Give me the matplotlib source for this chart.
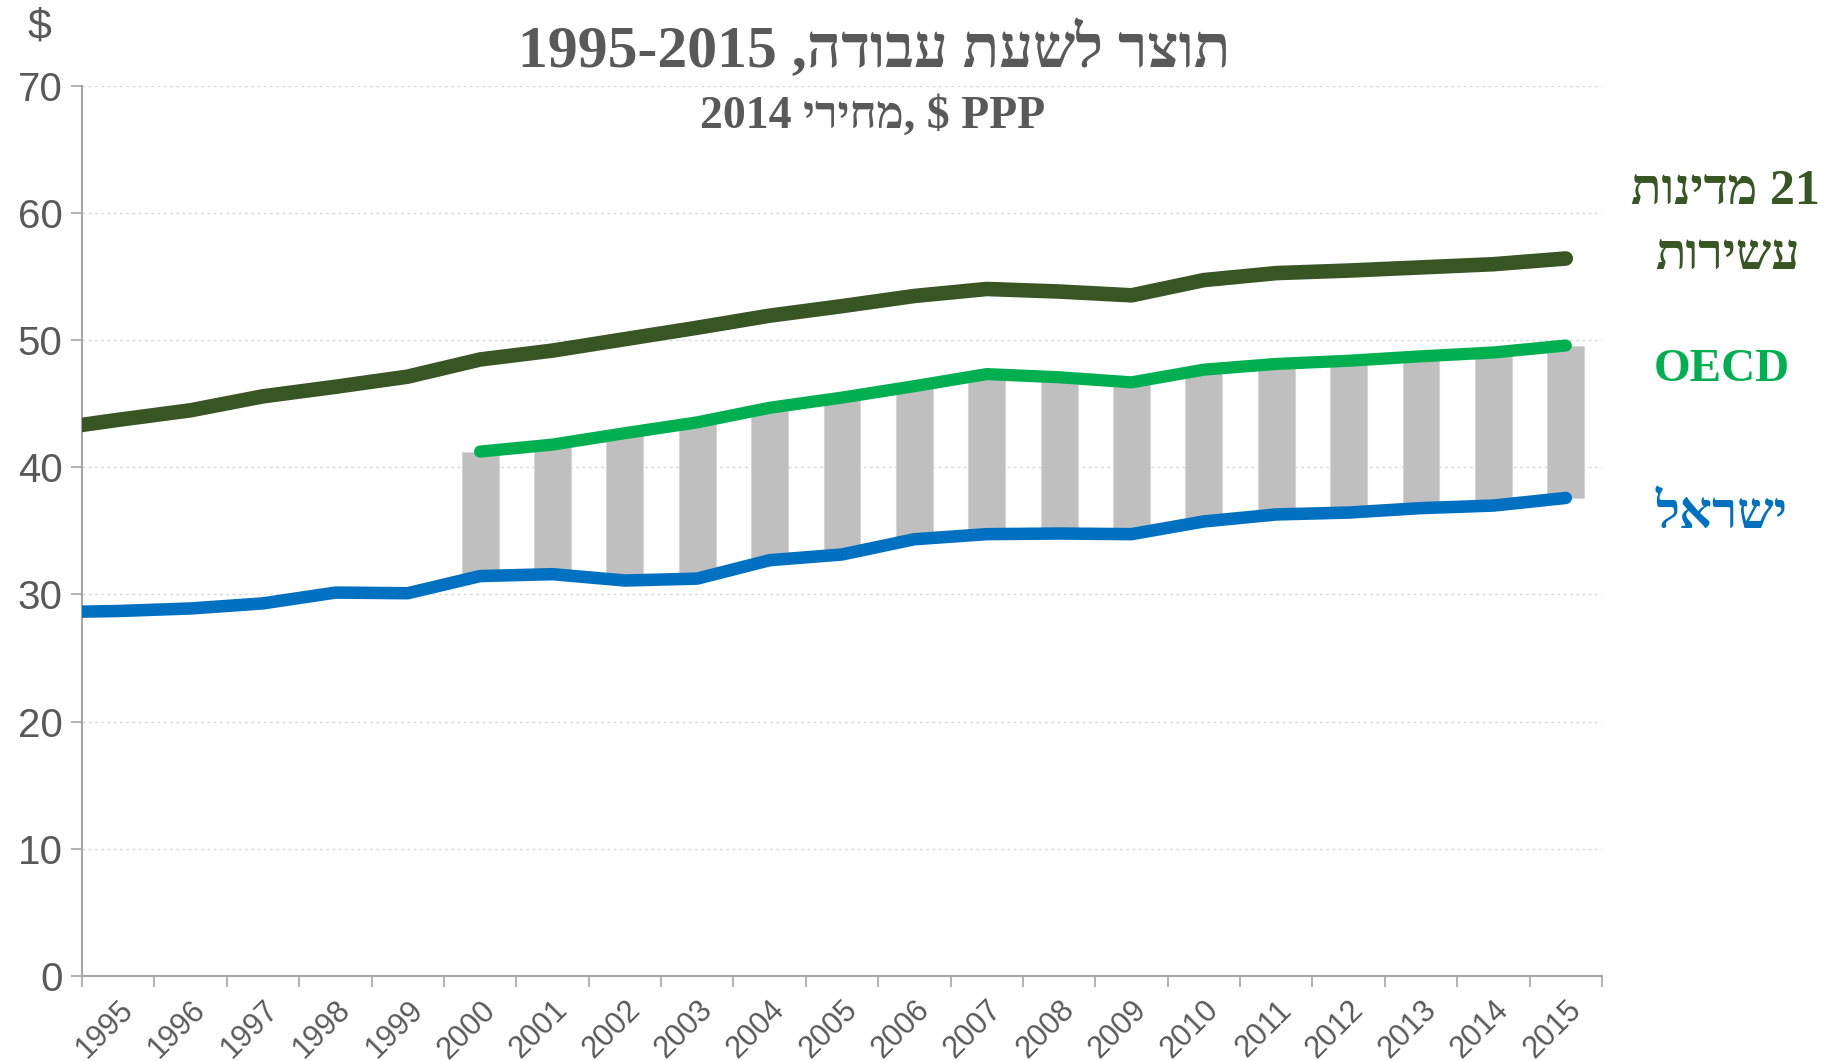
import re

import numpy as np
import matplotlib
matplotlib.use('Agg')
import matplotlib.pyplot as plt


def rtl(s):
    # matplotlib has no bidi: flip the string, then flip back the digit/latin runs
    r = s[::-1]
    return re.sub(r'[0-9A-Za-z\-\.]+', lambda m: m.group(0)[::-1], r)


# data
years = list(range(1995, 2016))
# line series carry one extra point on the left (1994) that the axis clips
line_years = [1994] + years
rich21 = [42.95, 43.75, 44.5, 45.6, 46.35, 47.15, 48.5, 49.2, 50.1, 51.0, 51.95,
          52.7, 53.5, 54.05, 53.85, 53.55, 54.75, 55.3, 55.5, 55.75, 56.0, 56.45]
israel = [28.6, 28.7, 28.9, 29.3, 30.15, 30.1, 31.45, 31.6, 31.1, 31.25, 32.7,
          33.15, 34.35, 34.75, 34.8, 34.75, 35.75, 36.3, 36.45, 36.8, 37.0, 37.6]
oecd_years = list(range(2000, 2016))
oecd = [41.25, 41.8, 42.7, 43.55, 44.7, 45.5, 46.4, 47.35, 47.1, 46.7, 47.7,
        48.15, 48.4, 48.75, 49.05, 49.6]

c_dark = '#375623'
c_green = '#00B050'
c_blue = '#0070C0'
c_text = '#595959'
c_axis = '#A6A6A6'

plt.rcParams['font.family'] = ['Liberation Sans', 'DejaVu Sans']

fig = plt.figure(figsize=(18.3, 10.61), dpi=100)
ax = fig.add_axes([0.0448, 0.0805, 0.8306, 0.8381])

x0 = years[0]
# gap bars between Israel and OECD
isr_map = dict(zip(line_years, israel))
bar_x = [y - x0 for y in oecd_years]
bar_bottom = [isr_map[y] for y in oecd_years]
bar_h = [o - b for o, b in zip(oecd, bar_bottom)]
ax.bar(bar_x, bar_h, bottom=bar_bottom, width=0.51, color='#BFBFBF',
       edgecolor='#D6D6D6', linewidth=0.8, zorder=2)

lx = [y - x0 for y in line_years]
ax.plot(lx, rich21, color=c_dark, lw=10.5, solid_capstyle='round',
        solid_joinstyle='round', zorder=4)
ax.plot([y - x0 for y in oecd_years], oecd, color=c_green, lw=8.8,
        solid_capstyle='round', solid_joinstyle='round', zorder=4)
ax.plot(lx, israel, color=c_blue, lw=9.0, solid_capstyle='round',
        solid_joinstyle='round', zorder=5)

ax.set_xlim(-0.5, len(years) - 0.5)
ax.set_ylim(0, 70)

ax.set_yticks(np.arange(0, 71, 10))
ax.tick_params(axis='y', colors=c_axis, labelcolor=c_text, labelsize=29,
               length=8, width=1.2, pad=6)
for yv in range(10, 71, 10):
    ax.axhline(yv, color='#D9D9D9', lw=1.0, ls=(0, (2, 2.5)), zorder=1)

# category boundaries carry the tick marks, labels sit at the centres
ax.set_xticks(np.arange(-0.5, len(years), 1.0))
ax.set_xticks(np.arange(len(years)), minor=True)
ax.set_xticklabels([])
ax.set_xticklabels([str(y) for y in years], minor=True, rotation=45,
                   ha='right', va='top', rotation_mode='anchor')
ax.tick_params(axis='x', which='major', colors=c_axis, length=8, width=1.2)
ax.tick_params(axis='x', which='minor', length=0, labelsize=22,
               labelcolor=c_text, pad=14)

for s in ['top', 'right']:
    ax.spines[s].set_visible(False)
for s in ['left', 'bottom']:
    ax.spines[s].set_color(c_axis)
    ax.spines[s].set_linewidth(1.5)

fig.text(0.0215, 0.993, '$', fontsize=31, color=c_text, ha='center', va='top')

serif = ['Liberation Serif', 'DejaVu Serif']
fig.text(0.4776, 0.952, rtl('תוצר לשעת עבודה, 1995-2015'), fontsize=43,
         fontweight='bold', color=c_text, ha='center', va='center', family=serif)
fig.text(0.477, 0.890, rtl('PPP $ ,מחירי 2014'), fontsize=33,
         fontweight='bold', color=c_text, ha='center', va='center', family=serif)

fig.text(0.9430, 0.819, rtl('21 מדינות'), fontsize=36, fontweight='bold',
         color=c_dark, ha='center', va='center', family=serif)
fig.text(0.9440, 0.758, rtl('עשירות'), fontsize=36, fontweight='bold',
         color=c_dark, ha='center', va='center', family=serif)
fig.text(0.9410, 0.651, 'OECD', fontsize=34, fontweight='bold',
         color=c_green, ha='center', va='center', family=serif)
fig.text(0.9410, 0.514, rtl('ישראל'), fontsize=37, fontweight='bold',
         color=c_blue, ha='center', va='center', family=serif)

fig.savefig('out.png', dpi=100)
